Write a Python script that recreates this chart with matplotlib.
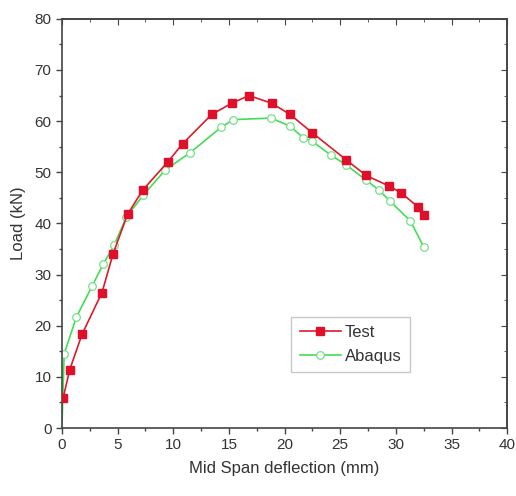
import matplotlib
matplotlib.use("Agg")
import matplotlib.pyplot as plt

# Test measurements (red filled squares)
test_x = [0.1, 0.7, 1.8, 3.6, 4.6, 5.9, 7.25, 9.5, 10.85, 13.45, 15.25, 16.8,
          18.85, 20.5, 22.5, 25.5, 27.3, 29.4, 30.45, 31.95, 32.5]
test_y = [5.8, 11.4, 18.3, 26.5, 34.1, 41.8, 46.5, 52.0, 55.6, 61.3, 63.5, 65.0,
          63.5, 61.3, 57.7, 52.5, 49.4, 47.3, 46.0, 43.3, 41.6]

# Abaqus model (green open circles)
abaqus_x = [0.0, 0.2, 1.3, 2.7, 3.7, 4.7, 5.8, 7.3, 9.3, 11.5, 14.3, 15.4,
            18.8, 20.5, 21.7, 22.45, 24.2, 25.5, 27.3, 28.5, 29.5, 31.3, 32.5]
abaqus_y = [0.0, 14.5, 21.7, 27.7, 32.0, 35.8, 41.3, 45.5, 50.5, 53.8, 58.8, 60.3,
            60.6, 59.0, 56.7, 56.1, 53.3, 51.5, 48.5, 46.5, 44.3, 40.5, 35.4]

plt.rcParams["font.family"] = ["Liberation Sans", "DejaVu Sans"]
text_color = "#333333"

fig = plt.figure(figsize=(5.16, 4.96), dpi=100)
ax = fig.add_axes([0.120, 0.137, 0.863, 0.825])

ax.plot(test_x, test_y, color="#dd1a2a", lw=1.2, marker="s", ms=6,
        mfc="#e0102a", mec="#e0102a", label="Test", zorder=3)
ax.plot(abaqus_x, abaqus_y, color="#44dd55", lw=1.2, marker="o", ms=5.5,
        mfc="white", mec="#77e088", mew=0.9, label="Abaqus", zorder=2,
        markevery=list(range(1, len(abaqus_x))))

ax.set_xlim(0, 40)
ax.set_ylim(0, 80)
ax.set_xticks(range(0, 41, 5))
ax.set_yticks(range(0, 81, 10))
ax.set_xticks([x + 2.5 for x in range(0, 40, 5)], minor=True)
ax.set_yticks([y + 5 for y in range(0, 80, 10)], minor=True)
ax.tick_params(which="major", direction="out", length=4, width=1,
               labelsize=11, labelcolor=text_color, color="#444444")
ax.tick_params(which="minor", direction="out", length=2, width=1, color="#444444")

# mirrored ticks on top and right, pointing inwards, no labels
top = ax.secondary_xaxis("top")
top.set_xticks(range(0, 41, 5))
top.set_xticks([x + 2.5 for x in range(0, 40, 5)], minor=True)
top.tick_params(which="major", direction="in", length=4, labeltop=False, color="#444444")
top.tick_params(which="minor", direction="in", length=2, color="#444444")
right = ax.secondary_yaxis("right")
right.set_yticks(range(0, 81, 10))
right.set_yticks([y + 5 for y in range(0, 80, 10)], minor=True)
right.tick_params(which="major", direction="in", length=4, labelright=False, color="#444444")
right.tick_params(which="minor", direction="in", length=2, color="#444444")

for spine in list(ax.spines.values()) + [top.spines["top"], right.spines["right"]]:
    spine.set_color("#444444")
    spine.set_linewidth(1.2)

ax.set_xlabel("Mid Span deflection (mm)", fontsize=12, color=text_color, labelpad=6)
ax.set_ylabel("Load (kN)", fontsize=12, color=text_color, labelpad=6)

leg = ax.legend(loc="lower left", bbox_to_anchor=(0.515, 0.137), fontsize=12,
                handlelength=2.5, frameon=True, fancybox=False, borderaxespad=0,
                borderpad=0.5, labelspacing=0.5, handletextpad=0.2)
leg.get_frame().set_edgecolor("#bbbbbb")
leg.get_frame().set_linewidth(1.0)
for t in leg.get_texts():
    t.set_color(text_color)

fig.savefig("out.png", dpi=100)
